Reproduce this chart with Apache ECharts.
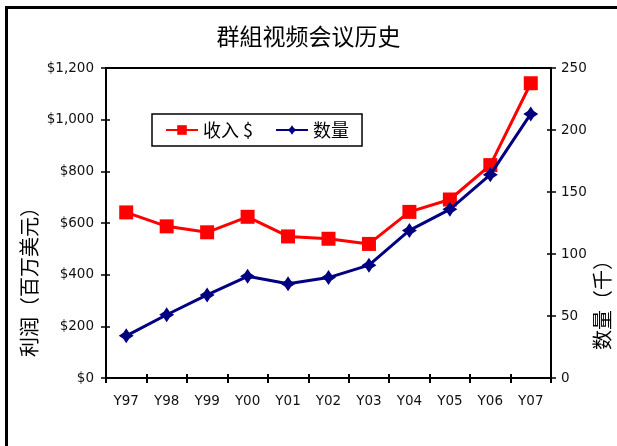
<!DOCTYPE html>
<html>
<head>
<meta charset="utf-8">
<script src="https://cdn.jsdelivr.net/npm/echarts@6/dist/echarts.min.js"></script>
<style>
html,body{margin:0;padding:0;background:#fff;overflow:hidden;}
#main{position:absolute;left:0;top:0;width:617px;height:446px;}
</style>
</head>
<body>
<div id="main"></div>
<script>
var categories = ['Y97','Y98','Y99','Y00','Y01','Y02','Y03','Y04','Y05','Y06','Y07'];
var revenue = [641, 587, 564, 624, 548, 539, 519, 643, 691, 824, 1141];
var units = [34, 51, 67, 82, 76, 81, 91, 119, 136, 164, 213];
var seriesNames = ['收入 $', '数量'];
var titleText = '群組视频会议历史';
var leftAxisName = '利润（百万美元）';
var rightAxisName = '数量（千）';

var chart = echarts.init(document.getElementById('main'), null, {renderer: 'canvas'});
var labelFont = 'DejaVu Sans';
var cjk = '"Noto Sans CJK SC"';
var starPath = 'path://M0,-10 L4,-4 L10,0 L4,4 L0,10 L-4,4 L-10,0 L-4,-4 Z';

function dollars(v){
  return '$' + String(v).replace(/\B(?=(\d{3})+(?!\d))/g, ',');
}

var option = {
  animation: false,
  backgroundColor: '#fff',
  title: {
    text: titleText, left: 'center', top: 25, padding: 0,
    textStyle: {fontFamily: cjk, fontSize: 23, fontWeight: 'normal', color: '#000'}
  },
  legend: {
    data: seriesNames, left: 152, top: 114, orient: 'horizontal',
    borderColor: '#000', borderWidth: 1.5, padding: [7, 13, 7, 13],
    itemWidth: 32, itemHeight: 12, itemGap: 22,
    textStyle: {fontFamily: cjk, fontSize: 18, color: '#000'}
  },
  grid: {
    left: 106, right: 66, top: 68, bottom: 68,
    show: true, borderColor: '#000', borderWidth: 2, backgroundColor: '#fff'
  },
  xAxis: [{
    type: 'category', data: categories, boundaryGap: true,
    axisLine: {lineStyle: {color: '#000', width: 2}},
    axisTick: {show: true, length: 5, lineStyle: {color: '#000', width: 2}},
    axisLabel: {fontFamily: labelFont, fontSize: 13.5, color: '#111', margin: 16, interval: 0},
    splitLine: {show: false}
  }, {
    type: 'category', data: categories, boundaryGap: true, position: 'bottom',
    axisLine: {show: false},
    axisTick: {show: true, inside: true, length: 4, lineStyle: {color: '#000', width: 2}},
    axisLabel: {show: false}, splitLine: {show: false}
  }],
  yAxis: [{
    type: 'value', position: 'left', min: 0, max: 1200, interval: 200,
    axisLine: {show: true, lineStyle: {color: '#000', width: 2}},
    axisTick: {show: true, length: 5, lineStyle: {color: '#000', width: 1.5}},
    axisLabel: {fontFamily: labelFont, fontSize: 13.5, color: '#111', margin: 12, formatter: dollars},
    splitLine: {show: false}
  }, {
    type: 'value', position: 'right', min: 0, max: 250, interval: 50,
    axisLine: {show: true, lineStyle: {color: '#000', width: 2}},
    axisTick: {show: true, length: 5, lineStyle: {color: '#000', width: 1.5}},
    axisLabel: {fontFamily: labelFont, fontSize: 13.5, color: '#111', margin: 10},
    splitLine: {show: false}
  }, {
    type: 'value', position: 'left', min: 0, max: 1200, interval: 200,
    axisLine: {show: false},
    axisTick: {show: true, inside: true, length: 4, lineStyle: {color: '#000', width: 1.5}},
    axisLabel: {show: false}, splitLine: {show: false}
  }, {
    type: 'value', position: 'right', min: 0, max: 250, interval: 50,
    axisLine: {show: false},
    axisTick: {show: true, inside: true, length: 4, lineStyle: {color: '#000', width: 1.5}},
    axisLabel: {show: false}, splitLine: {show: false}
  }],
  series: [{
    name: seriesNames[0], type: 'line', data: revenue, xAxisIndex: 0, yAxisIndex: 0,
    symbol: 'rect', symbolSize: 14, z: 3,
    lineStyle: {color: '#ff0000', width: 3},
    itemStyle: {color: '#ff0000'}
  }, {
    name: seriesNames[1], type: 'line', data: units, xAxisIndex: 0, yAxisIndex: 1,
    symbol: starPath, symbolSize: 15, z: 4,
    lineStyle: {color: '#000080', width: 3},
    itemStyle: {color: '#000080'}
  }],
  graphic: [{
    type: 'line', shape: {x1: 5, y1: 7.5, x2: 617, y2: 7.5}, style: {stroke: '#000', lineWidth: 3}, silent: true
  }, {
    type: 'line', shape: {x1: 6.5, y1: 6, x2: 6.5, y2: 446}, style: {stroke: '#000', lineWidth: 3}, silent: true
  }, {
    type: 'text', x: 29, y: 277, rotation: Math.PI / 2,
    style: {text: leftAxisName, font: '20px ' + cjk, fill: '#000', textAlign: 'center', textVerticalAlign: 'middle'}
  }, {
    type: 'text', x: 602, y: 300, rotation: Math.PI / 2,
    style: {text: rightAxisName, font: '20px ' + cjk, fill: '#000', textAlign: 'center', textVerticalAlign: 'middle'}
  }]
};
chart.setOption(option);
</script>
</body>
</html>
